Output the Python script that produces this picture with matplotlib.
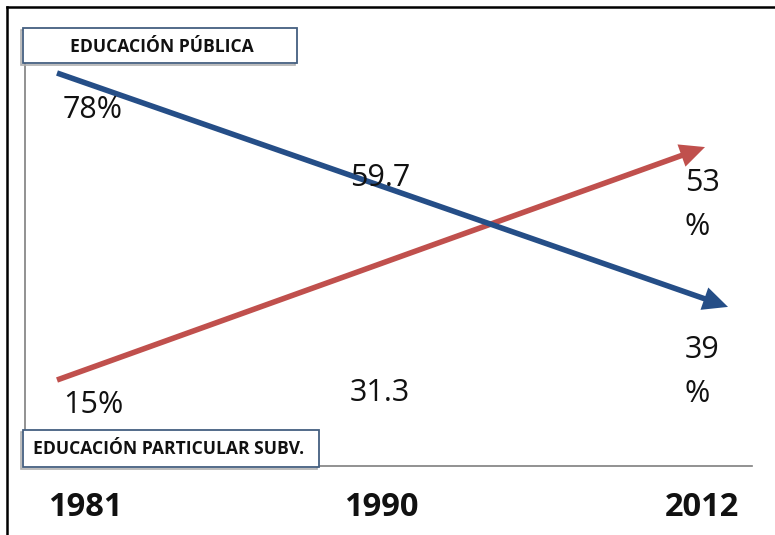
import matplotlib
matplotlib.use("Agg")
import matplotlib.pyplot as plt
from matplotlib.patches import Rectangle
from matplotlib.lines import Line2D

# ---- data ----
years = ["1981", "1990", "2012"]
publica = [78, 59.7, 39]
particular = [15, 31.3, 53]
publica_labels = ["78%", "59.7", "39\n%"]
particular_labels = ["15%", "31.3", "53\n%"]
# trend arrows as drawn in the picture (start, end) in percent
publica_trend = [78, 30.0]
particular_trend = [15, 62.8]
series_names = ["EDUCACIÓN PÚBLICA", "EDUCACIÓN PARTICULAR SUBV."]

W, H = 775, 535
FONT = "Open Sans"
BLUE = "#254E87"
RED = "#C0504D"

fig = plt.figure(figsize=(W / 100, H / 100), dpi=100)

def fx(x):
    return x / W

def fy(y):
    return 1 - y / H

# axes area in pixels
L, R, T, B = 25, 752, 35, 466
ax = fig.add_axes([fx(L), fy(B), (R - L) / W, (B - T) / H])
pxu = (716 - 57) / 2
ax.set_xlim(-(57 - L) / pxu, 2 + (R - 716) / pxu)
pyu = (380 - 73) / (78 - 15)
ax.set_ylim(15 - (B - 380) / pyu, 78 + (73 - T) / pyu)
ax.set_xticks([])
ax.set_yticks([])
for s in ["top", "right"]:
    ax.spines[s].set_visible(False)
for s in ["left", "bottom"]:
    ax.spines[s].set_color("#7f7f7f")
    ax.spines[s].set_linewidth(1.2)
ax.patch.set_alpha(0)

def arrow(vals, color, x_end):
    ax.annotate("", xy=(x_end, vals[1]), xytext=(0, vals[0]),
                arrowprops=dict(arrowstyle="simple,head_length=0.9,head_width=0.85,tail_width=0.2",
                                lw=0, color=color, shrinkA=0, shrinkB=0,
                                mutation_scale=20))

arrow(particular_trend, RED, 2 - 11 / pxu)
arrow(publica_trend, BLUE, 2 + 12 / pxu)

# value labels (pixel positions: left x, center y)
lab_pos_pub = [(63, 110), (350, 178), (685, 372)]
lab_pos_par = [(63, 405), (350, 393), (685, 205)]
for (x, y), t in zip(lab_pos_pub, publica_labels):
    fig.text(fx(x), fy(y), t, fontsize=22, family=FONT, color="#111111",
             ha="left", va="center", linespacing=1.6)
for (x, y), t in zip(lab_pos_par, particular_labels):
    fig.text(fx(x), fy(y), t, fontsize=22, family=FONT, color="#111111",
             ha="left", va="center", linespacing=1.6)

# year labels
for xc, t in zip([85, 381, 702], years):
    fig.text(fx(xc), fy(507), t, fontsize=23.5, family=FONT, fontweight="bold",
             color="#111111", ha="center", va="center")

# series boxes
def box(x0, y0, x1, y1, text, tx):
    sh = Rectangle((fx(x0 - 2), fy(y1 + 2)), (x1 - x0) / W, (y1 - y0) / H,
                   transform=fig.transFigure, facecolor="none",
                   edgecolor="#b0b0b0", lw=1.2)
    fig.add_artist(sh)
    r = Rectangle((fx(x0), fy(y1)), (x1 - x0) / W, (y1 - y0) / H,
                  transform=fig.transFigure, facecolor="white",
                  edgecolor="#445f80", lw=1.3)
    fig.add_artist(r)
    fig.text(fx(tx), fy((y0 + y1) / 2 + 1), text, fontsize=12.6, family=FONT,
             fontweight="bold", color="#111111", ha="left", va="center")

box(23, 28, 297, 63, series_names[0], 70)
box(23, 430, 319, 467, series_names[1], 33)

# outer frame (top and left)
fig.add_artist(Line2D([fx(7), fx(W)], [fy(7), fy(7)], transform=fig.transFigure,
                      color="black", lw=1.8))
fig.add_artist(Line2D([fx(7), fx(7)], [fy(7), fy(H)], transform=fig.transFigure,
                      color="black", lw=1.8))

fig.savefig("out.png", dpi=100, facecolor="white")
